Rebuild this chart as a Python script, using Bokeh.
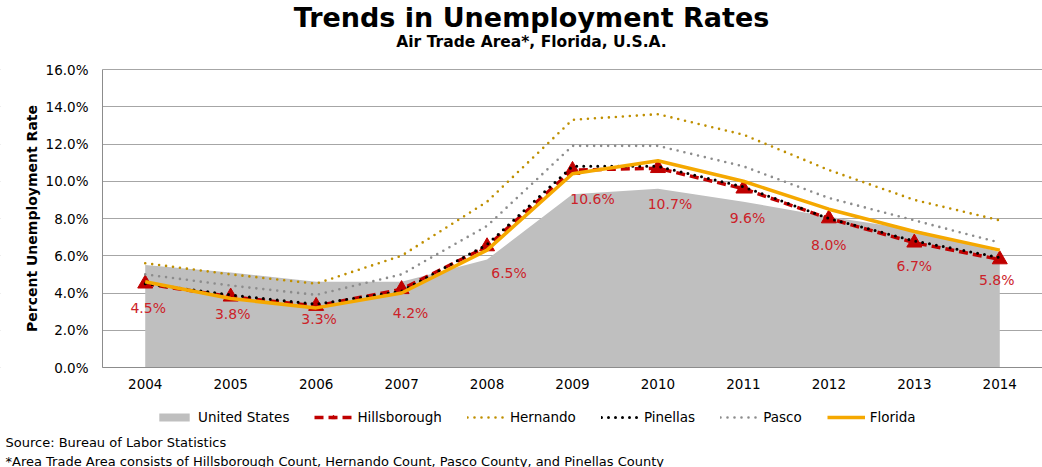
from bokeh.plotting import figure
from bokeh.models import (Label, Legend, LegendItem, FixedTicker, PrintfTickFormatter,
                          ColumnDataSource, Range1d, BoxAnnotation)
from bokeh.core.properties import value
from bokeh.embed import file_html
from bokeh.resources import INLINE

YEARS = ["2004", "2005", "2006", "2007", "2008", "2009", "2010", "2011", "2012", "2013", "2014"]
UNITED_STATES = [5.5, 5.1, 4.6, 4.6, 5.8, 9.3, 9.6, 8.9, 8.1, 7.4, 6.2]
HILLSBOROUGH = [4.5, 3.8, 3.3, 4.2, 6.5, 10.6, 10.7, 9.6, 8.0, 6.7, 5.8]
HERNANDO = [5.6, 5.0, 4.5, 6.0, 8.9, 13.3, 13.6, 12.5, 10.6, 9.0, 7.9]
PINELLAS = [4.5, 3.9, 3.4, 4.1, 6.6, 10.8, 10.8, 9.7, 8.0, 6.8, 5.9]
PASCO = [5.0, 4.4, 3.9, 5.0, 7.6, 11.9, 11.9, 10.8, 9.1, 7.9, 6.7]
FLORIDA = [4.6, 3.7, 3.2, 4.0, 6.3, 10.4, 11.1, 10.0, 8.5, 7.3, 6.3]
HILLS_LABELS = ["4.5%", "3.8%", "3.3%", "4.2%", "6.5%", "10.6%", "10.7%", "9.6%", "8.0%", "6.7%", "5.8%"]
Y_TICKS = [0, 2, 4, 6, 8, 10, 12, 14, 16]

TITLE = "Trends in Unemployment Rates"
SUBTITLE = "Air Trade Area*, Florida, U.S.A."
Y_LABEL = "Percent Unemployment Rate"
SOURCE = "Source: Bureau of Labor Statistics"
NOTE = "*Area Trade Area consists of Hillsborough Count, Hernando Count, Pasco County, and Pinellas County"

# label placement (screen px), kept apart from data
LABEL_DX = [3, 2, 3, 9, 22, 20, 12, 4, 0, 0, -3]
LABEL_DY = [24, 17, 13, 24, 27, 29, 36, 29, 26, 23, 21]

FONT = "DejaVu Sans"
W, H = 1042, 467
idx = list(range(len(YEARS)))

# plot-area geometry in page pixels: the frame covers the whole canvas and the
# axes are pinned (fixed_location) to the data area's left / bottom edges
PLOT_L, PLOT_R, PLOT_T, PLOT_B = 102, 1042, 69, 367
x_lo, x_hi = -0.5, len(YEARS) - 0.5
y_lo, y_hi = 0, 16
xs = (PLOT_R - PLOT_L) / (x_hi - x_lo)
ys = (PLOT_B - PLOT_T) / (y_hi - y_lo)

p = figure(width=W, height=H, output_backend="svg", toolbar_location=None,
           x_range=Range1d(x_lo - PLOT_L / xs, x_hi + (W - PLOT_R) / xs),
           y_range=Range1d(y_lo - (H - PLOT_B) / ys, y_hi + PLOT_T / ys),
           min_border_left=0, min_border_right=0, min_border_top=0, min_border_bottom=0)
p.outline_line_color = None
p.background_fill_color = "white"
p.border_fill_color = "white"

p.xaxis.fixed_location = y_lo
p.yaxis.fixed_location = x_lo
p.xaxis.bounds = (x_lo, x_hi)
p.yaxis.bounds = (y_lo, y_hi)
p.xaxis.ticker = FixedTicker(ticks=idx)
p.xaxis.major_label_overrides = {i: y for i, y in zip(idx, YEARS)}
p.yaxis.ticker = FixedTicker(ticks=Y_TICKS)
p.yaxis.formatter = PrintfTickFormatter(format="%.1f%%")
for ax in (p.xaxis, p.yaxis):
    ax.major_tick_line_color = None
    ax.minor_tick_line_color = None
    ax.major_tick_out = 0
    ax.major_tick_in = 0
    ax.axis_line_color = "#8C8C8C"
    ax.axis_line_width = 1
    ax.major_label_text_font = FONT
    ax.major_label_text_font_size = "13.5px"
    ax.major_label_text_color = "#000000"
p.yaxis.major_label_standoff = 14
p.xaxis.major_label_standoff = 11
p.yaxis.axis_label = Y_LABEL
p.yaxis.axis_label_text_font = FONT
p.yaxis.axis_label_text_font_style = "bold"
p.yaxis.axis_label_text_font_size = "14px"
p.yaxis.axis_label_text_color = "#000000"
p.yaxis.axis_label_standoff = 3
p.xgrid.grid_line_color = None
p.ygrid.ticker = FixedTicker(ticks=Y_TICKS)
p.ygrid.bounds = (y_lo, y_hi)
p.ygrid.grid_line_color = "#A6A6A6"
p.ygrid.grid_line_width = 1

# keep gridlines inside the plot area (mask the strip left of it, below glyphs/axes)
p.add_layout(BoxAnnotation(right=x_lo, fill_color="white", fill_alpha=1.0,
                           line_color=None, level="underlay"))

src = ColumnDataSource(dict(x=idx, us=UNITED_STATES, hil=HILLSBOROUGH, her=HERNANDO,
                            pin=PINELLAS, pas=PASCO, fl=FLORIDA, lab=HILLS_LABELS,
                            dx=LABEL_DX, dy=LABEL_DY))

r_us = p.varea(x="x", y1=0, y2="us", source=src, fill_color="#BFBFBF")
r_hil = p.line("x", "hil", source=src, line_color="#C00000", line_width=3.5, line_dash="9 5")
r_hil_m = p.scatter("x", "hil", source=src, marker="triangle", size=15,
                    fill_color="#C00000", line_color="#C00000")
r_her = p.line("x", "her", source=src, line_color="#BF8F00", line_width=2.6,
               line_dash="0 7", line_cap="round")
r_pin = p.line("x", "pin", source=src, line_color="#000000", line_width=3,
               line_dash="0 7", line_cap="round")
r_pas = p.line("x", "pas", source=src, line_color="#8C8C8C", line_width=2.6,
               line_dash="0 7", line_cap="round")
r_fl = p.line("x", "fl", source=src, line_color="#F5A800", line_width=3.5)

p.text("x", "hil", text="lab", source=src, x_offset="dx", y_offset="dy",
       text_align="center", text_baseline="middle", text_color="#CC2229",
       text_font=value(FONT), text_font_size="14px")

legend = Legend(items=[
    LegendItem(label="United States", renderers=[r_us]),
    LegendItem(label="Hillsborough", renderers=[r_hil, r_hil_m]),
    LegendItem(label="Hernando", renderers=[r_her]),
    LegendItem(label="Pinellas", renderers=[r_pin]),
    LegendItem(label="Pasco", renderers=[r_pas]),
    LegendItem(label="Florida", renderers=[r_fl]),
], orientation="horizontal", location=(155, 42))
legend.border_line_color = None
legend.background_fill_alpha = 0
legend.padding = 0
legend.margin = 0
legend.spacing = 25
legend.label_standoff = 5
legend.glyph_width = 38
legend.glyph_height = 10
legend.label_text_font = FONT
legend.label_text_font_size = "13.5px"
legend.label_text_color = "#000000"
p.add_layout(legend, "center")


# texts placed in screen px (origin bottom-left of the canvas-wide frame)
def text(s, px, py, size, bold=False, align="left", baseline="middle"):
    p.add_layout(Label(x=px, y=H - py, x_units="screen", y_units="screen", text=s,
                       text_font=FONT, text_font_size=size,
                       text_font_style="bold" if bold else "normal",
                       text_align=align, text_baseline=baseline, text_color="#000000"))


text(TITLE, 531, 17, "27px", bold=True, align="center", baseline="alphabetic")
text(SUBTITLE, 531, 41.5, "15.5px", bold=True, align="center", baseline="alphabetic")
text(SOURCE, 5, 441.5, "13px")
text(NOTE, 5, 460.5, "13px")

open("out.html", "w").write(file_html(p, INLINE))
